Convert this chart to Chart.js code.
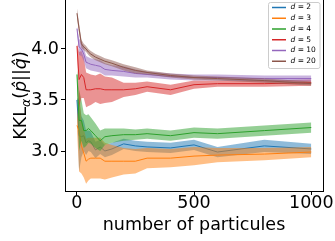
<!DOCTYPE html>
<html>
<head>
<meta charset="utf-8">
<script src="https://cdn.jsdelivr.net/npm/chart.js@4/dist/chart.umd.min.js"></script>
<style>
  html, body { margin: 0; padding: 0; background: #fff; }
  canvas { display: block; }
</style>
</head>
<body>
<canvas id="kklChart" width="335" height="241"></canvas>
<script>
// number of particules
const particles = [1, 10, 20, 30, 40, 50, 60, 80, 100, 120, 150, 200, 250, 300, 400, 500, 600, 800, 1000];

// mean KKL per dimension
const d2  = [3.50, 3.15, 3.14, 3.15, 3.08, 3.10, 3.09, 3.01, 3.04, 3.00, 3.02, 3.07, 3.05, 3.04, 3.03, 3.06, 2.99, 3.05, 3.02];
const d3  = [3.25, 3.20, 3.05, 2.98, 2.90, 2.92, 2.93, 2.93, 2.93, 2.90, 2.90, 2.90, 2.90, 2.93, 2.93, 2.95, 2.96, 2.97, 2.99];
const d4  = [3.75, 3.30, 3.30, 3.20, 3.20, 3.22, 3.20, 3.15, 3.10, 3.14, 3.15, 3.16, 3.16, 3.17, 3.15, 3.18, 3.17, 3.20, 3.23];
const d5  = [4.03, 3.70, 3.75, 3.72, 3.60, 3.60, 3.60, 3.61, 3.61, 3.60, 3.60, 3.60, 3.61, 3.63, 3.60, 3.65, 3.66, 3.66, 3.67];
const d10 = [4.20, 4.02, 4.00, 3.95, 3.87, 3.86, 3.85, 3.84, 3.83, 3.80, 3.79, 3.78, 3.76, 3.75, 3.73, 3.72, 3.72, 3.71, 3.71];
const d20 = [4.35, 4.20, 4.05, 4.02, 4.00, 3.97, 3.95, 3.92, 3.90, 3.88, 3.86, 3.82, 3.79, 3.77, 3.74, 3.72, 3.71, 3.69, 3.66];

// half width of the shaded band
const s2  = [0.02, 0.35, 0.20, 0.15, 0.12, 0.10, 0.10, 0.08, 0.07, 0.06, 0.06, 0.05, 0.05, 0.05, 0.05, 0.05, 0.05, 0.06, 0.05];
const s3  = [0.05, 0.40, 0.27, 0.24, 0.22, 0.21, 0.20, 0.20, 0.20, 0.18, 0.16, 0.13, 0.12, 0.10, 0.09, 0.09, 0.07, 0.06, 0.05];
const s4  = [0.05, 0.30, 0.20, 0.17, 0.15, 0.14, 0.13, 0.12, 0.10, 0.08, 0.07, 0.06, 0.05, 0.05, 0.05, 0.05, 0.05, 0.05, 0.05];
const s5  = [0.02, 0.27, 0.23, 0.20, 0.17, 0.16, 0.15, 0.13, 0.15, 0.13, 0.12, 0.07, 0.06, 0.05, 0.05, 0.04, 0.03, 0.03, 0.03];
const s10 = [0.02, 0.08, 0.07, 0.07, 0.06, 0.06, 0.06, 0.06, 0.06, 0.06, 0.05, 0.05, 0.04, 0.03, 0.03, 0.03, 0.03, 0.03, 0.03];
const s20 = [0.05, 0.05, 0.04, 0.03, 0.03, 0.03, 0.03, 0.03, 0.03, 0.03, 0.03, 0.03, 0.03, 0.02, 0.02, 0.02, 0.02, 0.02, 0.02];

const labels = ['d = 2', 'd = 3', 'd = 4', 'd = 5', 'd = 10', 'd = 20'];
const colors = ['#1f77b4', '#ff7f0e', '#2ca02c', '#d62728', '#9467bd', '#8c564b'];
const means = [d2, d3, d4, d5, d10, d20];
const spreads = [s2, s3, s4, s5, s10, s20];

const xTicks = [0, 500, 1000];
const yTicks = [3.0, 3.5, 4.0];

const FONT = 'DejaVu Sans';

function rgba(hex, a) {
    const n = parseInt(hex.slice(1), 16);
    return `rgba(${(n >> 16) & 255},${(n >> 8) & 255},${n & 255},${a})`;
}

const datasets = [];
means.forEach((m, k) => {
    const order = (6 - k) * 10;
    datasets.push({
        label: labels[k] + ' upper',
        data: particles.map((x, i) => ({ x: x, y: m[i] + spreads[k][i] })),
        borderWidth: 0, pointRadius: 0, tension: 0,
        backgroundColor: rgba(colors[k], 0.5),
        fill: '+1', order: order + 1
    });
    datasets.push({
        label: labels[k] + ' lower',
        data: particles.map((x, i) => ({ x: x, y: m[i] - spreads[k][i] })),
        borderWidth: 0, pointRadius: 0, tension: 0,
        fill: false, order: order + 1
    });
    datasets.push({
        label: labels[k],
        data: particles.map((x, i) => ({ x: x, y: m[i] })),
        borderColor: colors[k], borderWidth: 1, pointRadius: 0, tension: 0,
        fill: false, order: order
    });
});

// frame, y title with subscript, and boxed legend
const extras = {
    id: 'extras',
    afterDraw(chart) {
        const c = chart.ctx;
        const a = chart.chartArea;
        c.save();
        c.strokeStyle = '#000';
        c.lineWidth = 1;
        c.beginPath();
        c.moveTo(a.right + 0.5, a.top - 2);
        c.lineTo(a.right + 0.5, a.bottom + 0.5);
        c.stroke();

        // y title
        c.translate(26, (a.top + a.bottom) / 2);
        c.rotate(-Math.PI / 2);
        c.fillStyle = '#000';
        c.textBaseline = 'alphabetic';
        const parts = [
            ['KKL', `17.5px "${FONT}"`, 0],
            ['α', `italic 12.5px "${FONT}"`, 3.5],
            ['(', `17.5px "${FONT}"`, 0],
            ['p\u0302', `italic 17.5px "${FONT}"`, 0],
            ['||', `17.5px "${FONT}"`, 0],
            ['q\u0302', `italic 17.5px "${FONT}"`, 0],
            [')', `17.5px "${FONT}"`, 0]
        ];
        let total = 0;
        parts.forEach(p => { c.font = p[1]; total += c.measureText(p[0]).width; });
        let x = -total / 2;
        parts.forEach(p => {
            c.font = p[1];
            c.fillText(p[0], x, p[2]);
            x += c.measureText(p[0]).width;
        });
        c.restore();

        // legend
        c.save();
        const bx = 268.5, by = 2.5, bw = 51.5, bh = 66, r = 2;
        c.fillStyle = 'rgba(255,255,255,0.8)';
        c.strokeStyle = '#cccccc';
        c.lineWidth = 1;
        c.beginPath();
        c.roundRect(bx, by, bw, bh, r);
        c.fill();
        c.stroke();
        labels.forEach((lab, k) => {
            const y = 7.5 + k * 10.75;
            c.strokeStyle = colors[k];
            c.lineWidth = 1.5;
            c.beginPath();
            c.moveTo(272, y);
            c.lineTo(286, y);
            c.stroke();
            c.fillStyle = '#000';
            c.textBaseline = 'middle';
            c.font = `italic 7.5px "${FONT}"`;
            c.fillText('d', 290.5, y);
            const w = c.measureText('d').width;
            c.font = `7.5px "${FONT}"`;
            c.fillText(lab.slice(1), 290.5 + w, y);
        });
        c.restore();
    }
};

new Chart(document.getElementById('kklChart').getContext('2d'), {
    type: 'line',
    data: { datasets: datasets },
    options: {
        responsive: false,
        animation: false,
        devicePixelRatio: 1,
        layout: { padding: { top: 0, right: 12, left: 0, bottom: 0 } },
        plugins: {
            legend: { display: false },
            tooltip: { enabled: false }
        },
        scales: {
            x: {
                type: 'linear',
                min: -50, max: 1050,
                afterBuildTicks: s => { s.ticks = xTicks.map(v => ({ value: v })); },
                afterFit: s => { s.height = 50; s.paddingLeft = 0; s.paddingRight = 0; },
                grid: { display: true, drawOnChartArea: false, drawTicks: true, tickLength: 4, color: '#000' },
                border: { display: true, color: '#000', width: 1 },
                ticks: {
                    color: '#000', padding: 0, maxRotation: 0,
                    font: { family: FONT, size: 17.5, lineHeight: 1 },
                    callback: v => String(v)
                },
                title: {
                    display: true, text: 'number of particules', color: '#000',
                    font: { family: FONT, size: 17.5 },
                    padding: { top: 0, bottom: 5 }
                }
            },
            y: {
                type: 'linear',
                min: 2.608, max: 4.48,
                afterBuildTicks: s => { s.ticks = yTicks.map(v => ({ value: v })); },
                afterFit: s => { s.width = 65; s.paddingTop = 0; s.paddingBottom = 0; },
                grid: { display: true, drawOnChartArea: false, drawTicks: true, tickLength: 4, color: '#000' },
                border: { display: true, color: '#000', width: 1 },
                ticks: {
                    color: '#000', padding: 2,
                    font: { family: FONT, size: 17.5 },
                    callback: v => v.toFixed(1)
                }
            }
        }
    },
    plugins: [extras]
});
</script>
</body>
</html>
